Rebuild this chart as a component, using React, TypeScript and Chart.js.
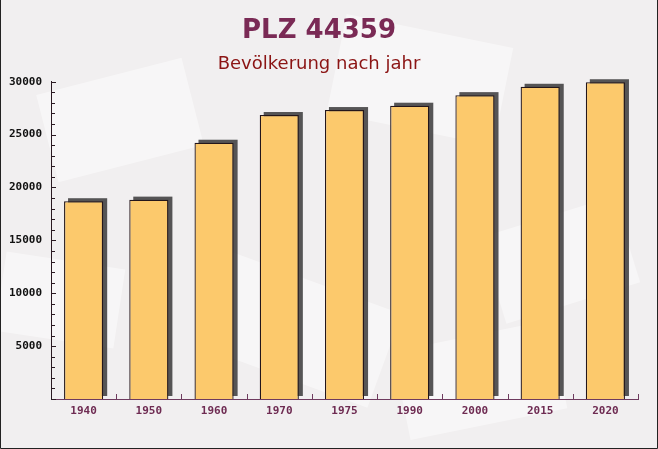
import React, { useEffect, useRef } from "react";
import { Chart, registerables } from "chart.js";

Chart.register(...registerables);

const categories = ["1940", "1950", "1960", "1970", "1975", "1990", "2000", "2015", "2020"];
const population = [18700, 18850, 24230, 26850, 27320, 27730, 28730, 29520, 29950];
const yMin = 0;
const yMax = 30000;
const yStep = 1000;
const yLabelStep = 5000;

const titleText = "PLZ 44359";
const subtitleText = "Bevölkerung nach jahr";

const decorPlugin = {
  id: "decor",
  beforeDraw(chart: any) {
    const { ctx, width, height } = chart;
    ctx.save();
    ctx.fillStyle = "#f1eff0";
    ctx.fillRect(0, 0, width, height);
    const shapes: [number, number, number, number, number][] = [
      [120, 120, 150, 90, -0.25],
      [420, 80, 170, 100, 0.2],
      [560, 260, 140, 90, -0.3],
      [300, 330, 180, 100, 0.35],
      [60, 300, 120, 80, 0.15],
      [480, 380, 160, 90, -0.2],
    ];
    ctx.fillStyle = "rgba(255,255,255,0.45)";
    for (const [cx, cy, w, h, a] of shapes) {
      ctx.save();
      ctx.translate(cx, cy);
      ctx.rotate(a);
      ctx.fillRect(-w / 2, -h / 2, w, h);
      ctx.restore();
    }
    ctx.restore();
  },
  beforeDatasetsDraw(chart: any) {
    const { ctx } = chart;
    const meta = chart.getDatasetMeta(0);
    ctx.save();
    ctx.fillStyle = "rgba(72,70,72,0.92)";
    const dx = 4;
    const dy = -3;
    for (const bar of meta.data) {
      const { x, y, width, base } = bar.getProps(["x", "y", "width", "base"], true);
      const left = x - width / 2 + dx;
      ctx.fillRect(left, y + dy, width, base - y);
    }
    ctx.restore();
  },
  afterDatasetsDraw(chart: any) {
    const { ctx, scales, chartArea } = chart;
    ctx.save();
    const y = scales.y;
    ctx.strokeStyle = "#2a1a22";
    ctx.lineWidth = 1;
    for (const t of y.ticks) {
      const py = Math.round(y.getPixelForValue(t.value)) + 0.5;
      const major = t.value % yLabelStep === 0;
      ctx.beginPath();
      ctx.moveTo(chartArea.left, py);
      ctx.lineTo(chartArea.left + (major ? 5 : 4), py);
      ctx.stroke();
    }
    const x = scales.x;
    ctx.strokeStyle = "#6e3a5e";
    for (let i = 1; i <= categories.length; i++) {
      const px =
        i < categories.length
          ? (x.getPixelForValue(i - 1) + x.getPixelForValue(i)) / 2
          : chartArea.right;
      const rx = Math.round(px) + 0.5;
      ctx.beginPath();
      ctx.moveTo(rx, chartArea.bottom);
      ctx.lineTo(rx, chartArea.bottom - 5);
      ctx.stroke();
    }
    ctx.restore();
  },
  afterDraw(chart: any) {
    const { ctx, width, height } = chart;
    ctx.save();
    ctx.strokeStyle = "#222";
    ctx.lineWidth = 1;
    ctx.beginPath();
    ctx.moveTo(0.5, 0);
    ctx.lineTo(0.5, height - 0.5);
    ctx.lineTo(width - 0.5, height - 0.5);
    ctx.lineTo(width - 0.5, 0);
    ctx.stroke();
    ctx.restore();
  },
};

export default function App() {
  const ref = useRef<HTMLCanvasElement>(null);
  useEffect(() => {
    if (!ref.current) return;
    const chart = new Chart(ref.current, {
      type: "bar",
      data: {
        labels: categories,
        datasets: [
          {
            data: population,
            backgroundColor: "#fcc96c",
            borderColor: "#24161a",
            borderWidth: 1.3,
            categoryPercentage: 1,
            barPercentage: 0.6,
            clip: false as any,
          },
        ],
      },
      options: {
        animation: false,
        responsive: false,
        maintainAspectRatio: false,
        layout: { padding: { left: 0, right: 20, top: 0, bottom: 0 } },
        plugins: {
          legend: { display: false },
          tooltip: { enabled: false },
          title: {
            display: true,
            text: titleText,
            color: "#7a2a55",
            font: { family: "DejaVu Sans", size: 26, weight: "bold", lineHeight: 1.2 },
            padding: { top: 16, bottom: 0 },
          },
          subtitle: {
            display: true,
            text: subtitleText,
            color: "#8b1414",
            font: { family: "DejaVu Sans", size: 18, weight: "normal", lineHeight: 1.2 },
            padding: { top: 6.5, bottom: 6.4 },
          },
        },
        scales: {
          x: {
            grid: { display: false, drawTicks: false },
            border: { display: true, color: "#6e3a5e", width: 1 },
            ticks: {
              color: "#6e2b52",
              font: { family: "DejaVu Sans Mono", size: 11, weight: "bold" },
              padding: 6,
            },
            afterFit(scale: any) {
              scale.height = 50;
            },
          },
          y: {
            min: yMin,
            max: yMax,
            grid: { display: false, drawTicks: false },
            border: { display: true, color: "#2a1a22", width: 1 },
            ticks: {
              stepSize: yStep,
              autoSkip: false,
              color: "#111",
              font: { family: "DejaVu Sans Mono", size: 11, weight: "bold" },
              padding: 9,
              callback: (v: any) => (Number(v) % yLabelStep === 0 && Number(v) !== 0 ? String(v) : ""),
            },
            afterFit(scale: any) {
              scale.width = 51;
            },
          },
        },
      },
      plugins: [decorPlugin],
    });
    return () => chart.destroy();
  }, []);
  return (
    <div style={{ position: "absolute", left: 0, top: 0, width: 658, height: 449 }}>
      <canvas ref={ref} width={658} height={449} style={{ display: "block", width: 658, height: 449 }} />
    </div>
  );
}
